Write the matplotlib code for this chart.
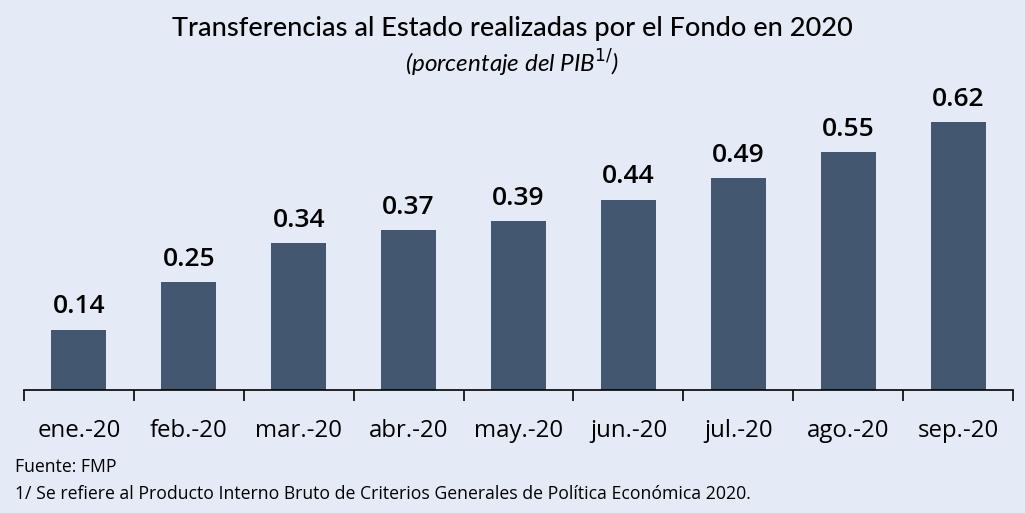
import matplotlib.pyplot as plt

# datos
meses = ['ene.-20', 'feb.-20', 'mar.-20', 'abr.-20', 'may.-20', 'jun.-20', 'jul.-20', 'ago.-20', 'sep.-20']
valores = [0.14, 0.25, 0.34, 0.37, 0.39, 0.44, 0.49, 0.55, 0.62]

fondo = '#E4EBF6'
color_barra = '#435870'

fig = plt.figure(figsize=(10.25, 5.13), dpi=100, facecolor=fondo)
ax = fig.add_axes([0.0234, 0.2398, 0.965, 0.6316])
ax.set_facecolor(fondo)

x = list(range(len(meses)))
ax.bar(x, valores, width=0.5, color=color_barra)

# etiquetas de valor
for xi, v in zip(x, valores):
    ax.text(xi, v + 0.053, f'{v:.2f}', ha='center', va='center',
            fontsize=19, family='Open Sans', fontweight='semibold', color='black')

ax.set_xlim(-0.5, len(meses) - 0.5)
ax.set_ylim(0, 0.75)
for s in ['top', 'right', 'left']:
    ax.spines[s].set_visible(False)
ax.spines['bottom'].set_color('black')
ax.spines['bottom'].set_linewidth(1.2)
ax.set_yticks([])

# ticks en los limites de categoria
ax.set_xticks([i - 0.5 for i in range(len(meses) + 1)])
ax.set_xticklabels([])
ax.tick_params(axis='x', length=8, width=1.2, color='black')
ax.set_xticks(x, minor=True)
ax.set_xticklabels(meses, minor=True, fontsize=17.3, family='Open Sans')
ax.tick_params(axis='x', which='minor', length=0, pad=21)

fig.text(0.5, 0.945, 'Transferencias al Estado realizadas por el Fondo en 2020',
         ha='center', va='center', fontsize=19.5, family='Lato', fontweight='medium')
fig.text(0.5, 0.876, r'(porcentaje del PIB$^{1/}$)', ha='center', va='center',
         fontsize=17.5, family='Lato', style='italic')

fig.text(0.015, 0.0897, 'Fuente: FMP', ha='left', va='center', fontsize=12.7, family='Open Sans')
fig.text(0.015, 0.037, '1/ Se refiere al Producto Interno Bruto de Criterios Generales de Política Económica 2020.',
         ha='left', va='center', fontsize=12.7, family='Open Sans')

fig.savefig('out.png', dpi=100, facecolor=fondo)
